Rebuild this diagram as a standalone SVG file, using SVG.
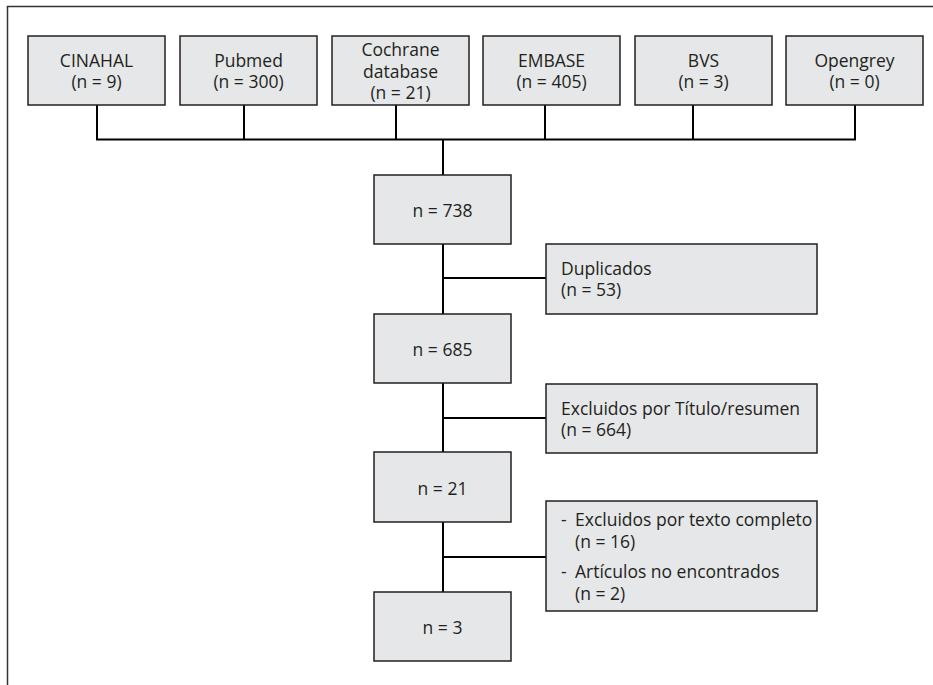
<svg xmlns="http://www.w3.org/2000/svg" width="933" height="685" viewBox="0 0 933 685">
<style>
.box{fill:#e6e7e8;stroke:#231f20;stroke-width:1.5}
.ln{fill:none;stroke:#000;stroke-width:2}
.fr{fill:none;stroke:#333;stroke-width:1.5}
text{font-family:"Open Sans","Noto Sans","DejaVu Sans",sans-serif;font-size:17.5px;fill:#231f20}
.c{text-anchor:middle}
</style>
<rect width="933" height="685" fill="#fff"/>
<path class="fr" d="M7.5 685V6.5H933"/>
<g id="connectors">
<path class="ln" d="M97 105V139.5H855V105M244 105V139.5M396 105V139.5M545 105V139.5M693 105V139.5M443 139.5V175"/>
<path class="ln" d="M443 244V314M443 278H546"/>
<path class="ln" d="M443 383V452M443 418H546"/>
<path class="ln" d="M443 522V592M443 557H546"/>
</g>
<g id="cinahal"><rect class="box" x="28" y="36" width="137" height="69"/><text class="c" x="96.5" y="67">CINAHAL</text><text class="c" x="96.5" y="88">(n = 9)</text></g>
<g id="pubmed"><rect class="box" x="180" y="36" width="137" height="69"/><text class="c" x="248.5" y="67">Pubmed</text><text class="c" x="248.5" y="88">(n = 300)</text></g>
<g id="cochrane"><rect class="box" x="332" y="36" width="137" height="69"/><text class="c" x="400.5" y="56">Cochrane</text><text class="c" x="400.5" y="78">database</text><text class="c" x="400.5" y="99">(n = 21)</text></g>
<g id="embase"><rect class="box" x="483" y="36" width="137" height="69"/><text class="c" x="551.5" y="67">EMBASE</text><text class="c" x="551.5" y="88">(n = 405)</text></g>
<g id="bvs"><rect class="box" x="635" y="36" width="137" height="69"/><text class="c" x="703.5" y="67">BVS</text><text class="c" x="703.5" y="88">(n = 3)</text></g>
<g id="opengrey"><rect class="box" x="786" y="36" width="137" height="69"/><text class="c" x="854.5" y="67">Opengrey</text><text class="c" x="854.5" y="88">(n = 0)</text></g>
<g id="n738"><rect class="box" x="374" y="175" width="137" height="69"/><text class="c" x="442.5" y="217">n = 738</text></g>
<g id="duplicados"><rect class="box" x="546" y="244" width="271" height="70"/><text x="561" y="275">Duplicados</text><text x="561" y="296">(n = 53)</text></g>
<g id="n685"><rect class="box" x="374" y="314" width="137" height="69"/><text class="c" x="442.5" y="356">n = 685</text></g>
<g id="excl-titulo"><rect class="box" x="546" y="384" width="271" height="69"/><text x="561" y="415">Excluidos por Título/resumen</text><text x="561" y="436">(n = 664)</text></g>
<g id="n21"><rect class="box" x="374" y="452" width="137" height="70"/><text class="c" x="442.5" y="495">n = 21</text></g>
<g id="excl-texto"><rect class="box" x="546" y="501" width="271" height="110"/><text x="561" y="526">-</text><text x="575" y="526">Excluidos por texto completo</text><text x="575" y="548">(n = 16)</text><text x="561" y="578">-</text><text x="575" y="578">Artículos no encontrados</text><text x="575" y="600">(n = 2)</text></g>
<g id="n3"><rect class="box" x="374" y="592" width="137" height="69"/><text class="c" x="442.5" y="634">n = 3</text></g>
</svg>
